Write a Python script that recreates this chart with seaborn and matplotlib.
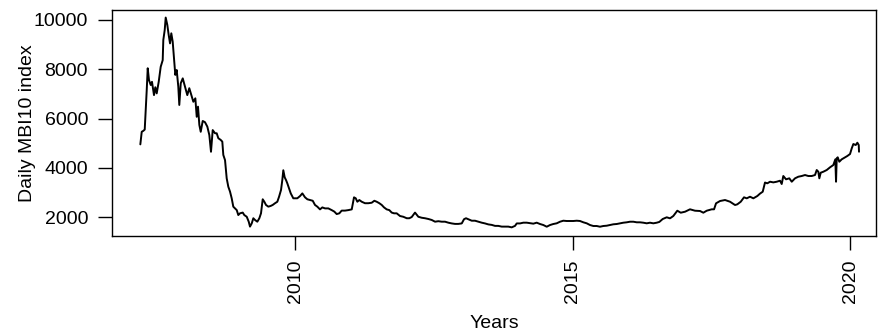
import matplotlib
matplotlib.use("Agg")
import matplotlib.pyplot as plt
import seaborn as sns
import pandas as pd

# Daily MBI10 index, sampled along the series (decimal years)
years = [
    2007.213, 2007.238, 2007.267, 2007.292, 2007.310, 2007.328, 2007.346, 2007.369,
    2007.400, 2007.423, 2007.459, 2007.483, 2007.508, 2007.544, 2007.580, 2007.616,
    2007.627, 2007.652, 2007.670, 2007.699, 2007.724, 2007.748, 2007.771, 2007.796,
    2007.820, 2007.843, 2007.868, 2007.897, 2007.915, 2007.941, 2007.977, 2008.018,
    2008.059, 2008.095, 2008.139, 2008.168, 2008.204, 2008.229, 2008.252, 2008.276,
    2008.301, 2008.337, 2008.378, 2008.420, 2008.456, 2008.486, 2008.517, 2008.559,
    2008.589, 2008.618, 2008.661, 2008.690, 2008.708, 2008.739, 2008.769, 2008.798,
    2008.829, 2008.859, 2008.888, 2008.919, 2008.950, 2008.978, 2009.009, 2009.058,
    2009.086, 2009.130, 2009.166, 2009.189, 2009.220, 2009.249, 2009.279, 2009.321,
    2009.357, 2009.387, 2009.418, 2009.447, 2009.477, 2009.519, 2009.562, 2009.598,
    2009.640, 2009.681, 2009.712, 2009.748, 2009.771, 2009.789, 2009.814, 2009.838,
    2009.861, 2009.892, 2009.923, 2009.969, 2010.041, 2010.090, 2010.132, 2010.180,
    2010.222, 2010.270, 2010.319, 2010.360, 2010.402, 2010.450, 2010.492, 2010.541,
    2010.600, 2010.661, 2010.708, 2010.751, 2010.798, 2010.841, 2010.901, 2010.960,
    2011.022, 2011.063, 2011.094, 2011.123, 2011.159, 2011.202, 2011.261, 2011.321,
    2011.382, 2011.429, 2011.472, 2011.519, 2011.562, 2011.604, 2011.652, 2011.699,
    2011.742, 2011.784, 2011.832, 2011.892, 2011.951, 2012.013, 2012.059, 2012.103,
    2012.162, 2012.222, 2012.283, 2012.342, 2012.402, 2012.463, 2012.523, 2012.582,
    2012.643, 2012.703, 2012.762, 2012.823, 2012.883, 2012.942, 2013.004, 2013.045,
    2013.081, 2013.123, 2013.184, 2013.243, 2013.303, 2013.364, 2013.423, 2013.483,
    2013.544, 2013.604, 2013.663, 2013.724, 2013.784, 2013.843, 2013.904, 2013.964,
    2013.995, 2014.054, 2014.114, 2014.175, 2014.234, 2014.294, 2014.355, 2014.414,
    2014.474, 2014.535, 2014.595, 2014.654, 2014.715, 2014.775, 2014.834, 2014.895,
    2014.955, 2015.014, 2015.076, 2015.135, 2015.195, 2015.256, 2015.315, 2015.375,
    2015.436, 2015.495, 2015.555, 2015.616, 2015.676, 2015.735, 2015.796, 2015.856,
    2015.915, 2015.977, 2016.036, 2016.096, 2016.157, 2016.216, 2016.276, 2016.337,
    2016.396, 2016.456, 2016.517, 2016.564, 2016.625, 2016.697, 2016.757, 2016.816,
    2016.888, 2016.950, 2017.027, 2017.117, 2017.207, 2017.297, 2017.357, 2017.418,
    2017.508, 2017.550, 2017.586, 2017.658, 2017.748, 2017.838, 2017.928, 2017.969,
    2018.031, 2018.090, 2018.139, 2018.198, 2018.258, 2018.330, 2018.378, 2018.427,
    2018.468, 2018.510, 2018.559, 2018.618, 2018.679, 2018.739, 2018.769, 2018.798,
    2018.847, 2018.906, 2018.950, 2019.009, 2019.068, 2019.130, 2019.189, 2019.249,
    2019.310, 2019.369, 2019.400, 2019.429, 2019.447, 2019.472, 2019.519, 2019.580,
    2019.640, 2019.699, 2019.735, 2019.748, 2019.760, 2019.778, 2019.807, 2019.850,
    2019.910, 2019.951, 2020.000, 2020.031, 2020.060, 2020.103, 2020.132, 2020.157,
    2020.162,
]

index_values = [
    4950, 5460, 5500, 5550, 6340, 7150, 8040, 7560,
    7360, 7490, 6950, 7270, 7020, 7490, 8100, 8370,
    9190, 9590, 10100, 9800, 9390, 9050, 9460, 9120,
    8440, 7770, 7970, 7290, 6550, 7430, 7630, 7290,
    6950, 7230, 6890, 6680, 6820, 6070, 6480, 5740,
    5460, 5900, 5850, 5670, 5330, 4650, 5530, 5400,
    5400, 5200, 5130, 5060, 4520, 4310, 3570, 3230,
    3030, 2760, 2420, 2350, 2280, 2080, 2150, 2180,
    2080, 2010, 1810, 1610, 1740, 1950, 1880, 1810,
    1950, 2150, 2720, 2620, 2490, 2420, 2450, 2490,
    2560, 2620, 2820, 3100, 3500, 3900, 3610, 3500,
    3370, 3170, 2960, 2760, 2760, 2850, 2960, 2800,
    2720, 2690, 2660, 2490, 2420, 2310, 2390, 2350,
    2350, 2280, 2220, 2120, 2150, 2260, 2260, 2280,
    2310, 2800, 2760, 2620, 2690, 2620, 2560, 2560,
    2580, 2660, 2620, 2560, 2490, 2390, 2310, 2280,
    2180, 2150, 2150, 2040, 2010, 1950, 1950, 2000,
    2180, 2010, 1970, 1950, 1920, 1880, 1810, 1830,
    1810, 1810, 1770, 1740, 1720, 1720, 1740, 1910,
    1950, 1910, 1850, 1850, 1810, 1770, 1740, 1700,
    1680, 1640, 1640, 1610, 1610, 1610, 1580, 1640,
    1740, 1740, 1770, 1770, 1750, 1730, 1770, 1716,
    1675, 1606, 1675, 1716, 1744, 1809, 1850, 1838,
    1838, 1838, 1850, 1838, 1785, 1744, 1675, 1635,
    1635, 1606, 1635, 1647, 1675, 1704, 1716, 1744,
    1769, 1785, 1809, 1809, 1785, 1785, 1769, 1744,
    1769, 1744, 1769, 1800, 1919, 1988, 1947, 2041,
    2256, 2175, 2215, 2313, 2256, 2244, 2175, 2256,
    2313, 2313, 2556, 2650, 2690, 2621, 2487, 2515,
    2621, 2800, 2759, 2824, 2759, 2853, 2950, 3027,
    3400, 3368, 3433, 3406, 3433, 3474, 3340, 3665,
    3531, 3571, 3433, 3571, 3636, 3665, 3705, 3665,
    3665, 3705, 3908, 3839, 3571, 3799, 3839, 3908,
    4018, 4111, 4342, 3433, 4380, 4424, 4245, 4342,
    4424, 4477, 4558, 4789, 4964, 4923, 5017, 4923,
    4651,
]

x_ticks = [2010, 2015, 2020]
y_ticks = [2000, 4000, 6000, 8000, 10000]

df = pd.DataFrame({"Years": years, "MBI10": index_values})

sns.set_theme(style="ticks")
plt.rcParams["font.family"] = ["Liberation Sans", "DejaVu Sans"]

W, H = 879, 333
fig = plt.figure(figsize=(W / 100, H / 100), dpi=100)
left, right, top, bottom = 111.7, 876, 10, 236
ax = fig.add_axes([left / W, 1 - bottom / H, (right - left) / W, (bottom - top) / H])

sns.lineplot(data=df, x="Years", y="MBI10", color="black", linewidth=1.4, ax=ax)

ax.set_xlim(2006.697, 2020.468)
ax.set_ylim(1229, 10406)
ax.set_xticks(x_ticks)
ax.set_xticklabels([str(v) for v in x_ticks], rotation=90)
ax.set_yticks(y_ticks)
ax.set_yticklabels([str(v) for v in y_ticks])

for side in ["left", "right", "top", "bottom"]:
    ax.spines[side].set_visible(True)
    ax.spines[side].set_color("black")
    ax.spines[side].set_linewidth(1.0)

ax.tick_params(axis="both", direction="out", length=10, width=1.0,
               color="black", labelsize=14, labelcolor="black", pad=7)
ax.grid(False)

ax.set_xlabel("Years", fontsize=14, color="black")
ax.set_ylabel("Daily MBI10 index", fontsize=14, color="black")
ax.xaxis.set_label_coords(0.5, -0.35)
ax.yaxis.set_label_coords(-0.099, 0.5)

fig.savefig("out.png", dpi=100, facecolor="white")
